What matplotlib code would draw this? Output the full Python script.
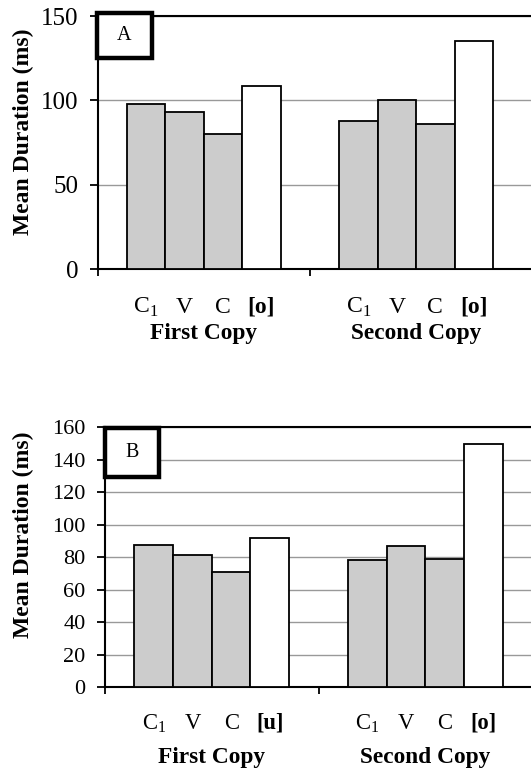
import numpy as np
import matplotlib
matplotlib.use("Agg")
import matplotlib.pyplot as plt
from matplotlib.patches import Rectangle

plt.rcParams['font.family'] = ['Liberation Serif', 'DejaVu Serif']
plt.rcParams['mathtext.fontset'] = 'custom'
plt.rcParams['mathtext.rm'] = 'Liberation Serif'

# data
groups = ['First Copy', 'Second Copy']
segs_a = ['C$_\\mathrm{1}$', 'V', 'C', '[o]']
segs_b = ['C$_\\mathrm{1}$', 'V', 'C', '[u]']
segs_b2 = ['C$_\\mathrm{1}$', 'V', 'C', '[o]']
vals_a = [[98.0, 93.1, 80.2, 108.3],
          [88.1, 100.4, 86.0, 135.4]]
vals_b = [[87.5, 81.1, 70.9, 92.0],
          [78.4, 86.9, 78.9, 149.5]]
ticks_a = [0, 50, 100, 150]
ticks_b = [0, 20, 40, 60, 80, 100, 120, 140, 160]

W, H = 531, 774
fig = plt.figure(figsize=(W / 100, H / 100), dpi=100)

bar_w = 0.181
colors = ['#cccccc', '#cccccc', '#cccccc', 'white']


def panel(rect, vals, labels_per_group, yticks, tick_fs, lab_fs, off1, off2, letter, box):
    l, b, r, t = rect
    ax = fig.add_axes([l / W, 1 - b / H, (r - l) / W, (b - t) / H])
    x = np.arange(len(groups))
    for i in range(4):
        ax.bar(x + (i - 1.5) * bar_w, [v[i] for v in vals], bar_w,
               color=colors[i], edgecolor='black', linewidth=1.3, zorder=3)
    ax.set_ylim(0, yticks[-1])
    ax.set_yticks(yticks)
    ax.set_yticklabels([str(t) for t in yticks], fontsize=tick_fs)
    ax.yaxis.grid(True, color='#999999', linewidth=1.0, zorder=0)
    ax.set_xlim(-0.5, 1.56)
    ax.set_xticks([-0.5, 0.5])
    ax.set_xticklabels([])
    ax.tick_params(axis='both', direction='out', length=5, width=1.3, color='black')
    ax.tick_params(axis='y', length=6, pad=8)
    for s in ['left', 'bottom', 'top']:
        ax.spines[s].set_linewidth(1.5)
    ax.spines['right'].set_visible(False)
    for g in range(len(groups)):
        for i in range(4):
            lab = labels_per_group[g][i]
            bold = 'bold' if lab.startswith('[') else 'normal'
            ax.annotate(lab, xy=(g + (i - 1.5) * bar_w, 0),
                        xycoords=('data', 'axes fraction'),
                        xytext=(0, off1), textcoords='offset points',
                        ha='center', va='center', fontsize=lab_fs, fontweight=bold,
                        annotation_clip=False)
        ax.annotate(groups[g], xy=(g, 0), xycoords=('data', 'axes fraction'),
                    xytext=(0, off2), textcoords='offset points',
                    ha='center', va='center', fontsize=16.8, fontweight='bold',
                    annotation_clip=False)
    bx0, by0, bx1, by1 = box
    fig.patches.append(Rectangle((bx0 / W, 1 - by1 / H), (bx1 - bx0) / W, (by1 - by0) / H,
                                 transform=fig.transFigure, facecolor='white',
                                 edgecolor='black', linewidth=3.2, zorder=5))
    fig.text((bx0 + bx1) / 2 / W, 1 - (by0 + by1) / 2 / H, letter,
             ha='center', va='center', fontsize=14.5, zorder=6)
    return ax


panel((97.5, 269.3, 535, 16), vals_a, [segs_a, segs_a], ticks_a, 18, 17,
      -27.5, -46, 'A', (97, 13, 152, 58))
panel((105, 687, 545, 427.3), vals_b, [segs_b, segs_b2], ticks_b, 16, 16.3,
      -26, -51, 'B', (105, 428, 159, 477))

fig.text(23 / W, 1 - 131.5 / H, 'Mean Duration (ms)', rotation=90,
         ha='center', va='center', fontsize=17, fontweight='bold')
fig.text(23 / W, 1 - 535 / H, 'Mean Duration (ms)', rotation=90,
         ha='center', va='center', fontsize=17, fontweight='bold')

fig.savefig('out.png', dpi=100)
